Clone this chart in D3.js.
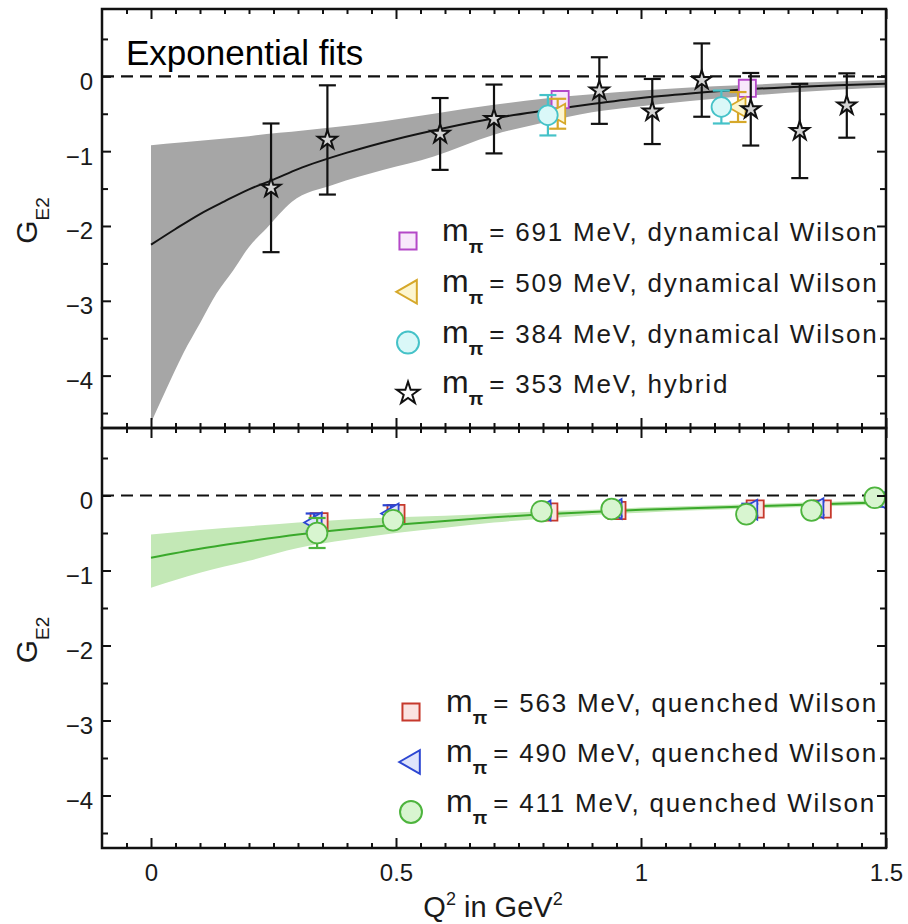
<!DOCTYPE html>
<html>
<head>
<meta charset="utf-8">
<script src="https://cdn.jsdelivr.net/npm/d3@7"></script>
<style>
  body { margin: 0; background: #fff; }
  svg text { font-family: "Liberation Sans", Arial, Helvetica, sans-serif; fill: #1a1a1a; }
</style>
</head>
<body>
<svg id="chart" width="908" height="924"></svg>
<script>
// ---------------- data ----------------
const xTickValues = [0, 0.5, 1, 1.5];
const xTickLabels = ["0", "0.5", "1", "1.5"];
const yTickValues = [0, -1, -2, -3, -4];
const yTickLabels = ["0", "\u22121", "\u22122", "\u22123", "\u22124"];

// exponential fit (upper panel): central curve
const fitTopQ = [0, 0.05, 0.1, 0.15, 0.2, 0.25, 0.3, 0.4, 0.5, 0.6, 0.7, 0.8, 0.9, 1.0, 1.1, 1.2, 1.3, 1.4, 1.5];
const fitTopG = [-2.25, -2.04, -1.84, -1.67, -1.51, -1.38, -1.24, -1.02, -0.84, -0.69, -0.56, -0.46, -0.37, -0.29, -0.23, -0.18, -0.145, -0.12, -0.10];
// exponential fit (upper panel): error band
const bandTopQ     = [0, 0.03, 0.066, 0.1, 0.134, 0.168, 0.2, 0.236, 0.287, 0.372, 0.475, 0.577, 0.7, 0.8, 0.9, 1.0, 1.1, 1.2, 1.3, 1.4, 1.5];
const bandTopUpper = [-0.92, -0.90, -0.88, -0.86, -0.84, -0.82, -0.80, -0.77, -0.74, -0.68, -0.60, -0.50, -0.38, -0.30, -0.24, -0.19, -0.15, -0.12, -0.09, -0.07, -0.05];
const bandTopLower = [-4.63, -4.20, -3.70, -3.30, -2.90, -2.59, -2.28, -2.03, -1.68, -1.45, -1.25, -1.07, -0.78, -0.62, -0.48, -0.40, -0.33, -0.27, -0.22, -0.18, -0.15];

// exponential fit (lower panel)
const fitBotQ     = [0, 0.1, 0.2, 0.3, 0.4, 0.5, 0.6, 0.7, 0.8, 0.9, 1.0, 1.1, 1.2, 1.3, 1.4, 1.5];
const fitBotG     = [-0.83, -0.71, -0.61, -0.52, -0.45, -0.39, -0.34, -0.29, -0.25, -0.22, -0.19, -0.17, -0.15, -0.13, -0.11, -0.09];
const bandBotUpper = [-0.52, -0.46, -0.41, -0.36, -0.32, -0.29, -0.27, -0.24, -0.21, -0.19, -0.16, -0.14, -0.12, -0.10, -0.08, -0.06];
const bandBotLower = [-1.23, -1.03, -0.87, -0.70, -0.59, -0.50, -0.43, -0.36, -0.31, -0.26, -0.23, -0.20, -0.18, -0.16, -0.14, -0.12];

// lattice points: [Q^2 (GeV^2), G_E2, error]
const dynWilson691 = [[0.835, -0.31, 0.06], [1.217, -0.16, 0.06]];
const dynWilson509 = [[0.830, -0.50, 0.20], [1.198, -0.41, 0.20]];
const dynWilson384 = [[0.810, -0.52, 0.27], [1.164, -0.41, 0.22]];
const hybrid353 = [
  [0.245, -1.49, 0.86], [0.360, -0.85, 0.73], [0.590, -0.77, 0.48], [0.700, -0.57, 0.46],
  [0.915, -0.19, 0.445], [1.023, -0.47, 0.435], [1.124, -0.05, 0.49], [1.224, -0.44, 0.485],
  [1.324, -0.73, 0.63], [1.420, -0.39, 0.43]
];
const quenched563 = [[0.343, -0.35, 0.07], [0.500, -0.24, 0.09], [0.812, -0.22, 0.05], [0.951, -0.20, 0.05], [1.233, -0.18, 0.06], [1.370, -0.18, 0.06]];
const quenched490 = [[0.333, -0.36, 0.12], [0.490, -0.24, 0.11], [0.800, -0.20, 0.08], [0.945, -0.18, 0.10], [1.222, -0.19, 0.08], [1.357, -0.17, 0.09], [1.490, -0.06, 0.09]];
const quenched411 = [[0.339, -0.50, 0.20], [0.494, -0.33, 0.05], [0.797, -0.21, 0.04], [0.940, -0.18, 0.04], [1.215, -0.25, 0.04], [1.348, -0.20, 0.04], [1.477, -0.03, 0.04]];

const legendTop = [
  { data: dynWilson691, text: "= 691 MeV, dynamical Wilson", shape: "square",   stroke: "#b448c8", fill: "#f8e8fb" },
  { data: dynWilson509, text: "= 509 MeV, dynamical Wilson", shape: "triangle", stroke: "#d6a82a", fill: "#fdf6cf" },
  { data: dynWilson384, text: "= 384 MeV, dynamical Wilson", shape: "circle",   stroke: "#45c2c8", fill: "#daf8f8" },
  { data: hybrid353,    text: "= 353 MeV, hybrid",           shape: "star",     stroke: "#111111", fill: "#d4d4d4" }
];
const legendBot = [
  { data: quenched563, text: "= 563 MeV, quenched Wilson", shape: "square",   stroke: "#c6392c", fill: "#fbe3e1" },
  { data: quenched490, text: "= 490 MeV, quenched Wilson", shape: "triangle", stroke: "#2c46d2", fill: "#dfe4fb" },
  { data: quenched411, text: "= 411 MeV, quenched Wilson", shape: "circle",   stroke: "#4db43d", fill: "#d8f5d0" }
];

// ---------------- layout ----------------
const svg = d3.select("#chart");
const plotLeft = 102, plotRight = 886;
const panels = [
  { top: 9,   bottom: 428, series: legendTop, band: { q: bandTopQ, up: bandTopUpper, lo: bandTopLower }, fit: { q: fitTopQ, g: fitTopG },
    bandColor: "#a6a6a6", lineColor: "#141414", legendX: 408, textX: 442, legendY0: 241, legendDY: 50.8, size: 1 },
  { top: 428, bottom: 848, series: legendBot, band: { q: fitBotQ, up: bandBotUpper, lo: bandBotLower }, fit: { q: fitBotQ, g: fitBotG },
    bandColor: "#c3e8b6", lineColor: "#3aa92b", legendX: 411, textX: 446, legendY0: 712, legendDY: 50, size: 1.05 }
];

const x = d3.scaleLinear().domain([-0.1, 1.5]).range([plotLeft, plotRight]);
const xMinor = d3.range(-0.05, 1.5, 0.05).map(v => +v.toFixed(2)).filter(v => !xTickValues.includes(v));
const yMinor = d3.range(-4.5, 0.9, 0.5).map(v => +v.toFixed(2)).filter(v => !yTickValues.includes(v));

function markerPath(shape, s) {
  if (shape === "square")   return d3.symbol(d3.symbolSquare, (18 * s) ** 2)();
  if (shape === "circle")   return d3.symbol(d3.symbolCircle, Math.PI * (9.8 * s) ** 2)();
  if (shape === "star")     return d3.symbol(d3.symbolStar, (10.5 * s) ** 2 / 0.8908)();
  // left-pointing triangle
  const r = 10.5 * s;
  return `M${-r},0L${r * 0.75},${-r}L${r * 0.75},${r}Z`;
}

panels.forEach((p, pi) => {
  const y = d3.scaleLinear().domain([-4.7, 0.9]).range([p.bottom, p.top]);
  const g = svg.append("g");
  const clipId = "clip" + pi;
  svg.append("clipPath").attr("id", clipId)
    .append("rect").attr("x", plotLeft).attr("y", p.top).attr("width", plotRight - plotLeft).attr("height", p.bottom - p.top);
  const inner = g.append("g").attr("clip-path", `url(#${clipId})`);

  // fit band
  const bandRows = p.band.q.map((q, i) => ({ q, up: p.band.up[i], lo: p.band.lo[i] }));
  inner.append("path").datum(bandRows)
    .attr("d", d3.area().x(d => x(d.q)).y0(d => y(d.lo)).y1(d => y(d.up)).curve(d3.curveMonotoneX))
    .attr("fill", p.bandColor).attr("stroke", "none");

  // zero line
  inner.append("line").attr("x1", plotLeft).attr("x2", plotRight).attr("y1", y(0)).attr("y2", y(0))
    .attr("stroke", "#111").attr("stroke-width", 2.2).attr("stroke-dasharray", "12,7");

  // central fit
  const fitRows = p.fit.q.map((q, i) => ({ q, g: p.fit.g[i] }));
  inner.append("path").datum(fitRows)
    .attr("d", d3.line().x(d => x(d.q)).y(d => y(d.g)).curve(d3.curveMonotoneX))
    .attr("fill", "none").attr("stroke", p.lineColor).attr("stroke-width", 2);

  // data series with error bars
  p.series.forEach(s => {
    const sg = inner.append("g");
    const pts = sg.selectAll("g.pt").data(s.data).join("g").attr("class", "pt");
    const cap = 8.5;
    const errCol = s.stroke;
    pts.append("line").attr("x1", d => x(d[0])).attr("x2", d => x(d[0]))
      .attr("y1", d => y(d[1] - d[2])).attr("y2", d => y(d[1] + d[2]))
      .attr("stroke", errCol).attr("stroke-width", 2.2);
    [-1, 1].forEach(sign => {
      pts.append("line").attr("x1", d => x(d[0]) - cap).attr("x2", d => x(d[0]) + cap)
        .attr("y1", d => y(d[1] + sign * d[2])).attr("y2", d => y(d[1] + sign * d[2]))
        .attr("stroke", errCol).attr("stroke-width", 2.2);
    });
    pts.append("path").attr("d", markerPath(s.shape, s.shape === "circle" ? p.size : 0.95))
      .attr("transform", d => `translate(${x(d[0])},${y(d[1])})`)
      .attr("fill", s.fill).attr("stroke", s.stroke).attr("stroke-width", s.shape === "star" ? 2 : 1.8)
      .attr("stroke-linejoin", "miter");
  });

  // legend: marker, then "m" with subscript pi and the description in one text run
  p.series.forEach((s, i) => {
    const ly = p.legendY0 + i * p.legendDY;
    g.append("path").attr("d", markerPath(s.shape, s.shape === "square" ? 0.95 : 1.12))
      .attr("transform", `translate(${p.legendX},${ly})`)
      .attr("fill", s.shape === "star" ? "#ffffff" : s.fill).attr("stroke", s.stroke).attr("stroke-width", 2);
    const t = g.append("text").attr("x", p.textX).attr("y", ly);
    t.append("tspan").attr("font-size", 32).text("m");
    t.append("tspan").attr("font-size", 19).attr("font-weight", "bold").attr("dx", 0).attr("dy", 12).text("\u03c0");
    t.append("tspan").attr("font-size", 26).attr("letter-spacing", "1.8px").attr("dx", 6).attr("dy", -12).text(s.text);
  });

  // axes: inward ticks on all sides
  const styleAxis = sel => {
    sel.select(".domain").remove();
    sel.selectAll("line").attr("stroke", "#111").attr("stroke-width", 2);
    sel.attr("font-family", null).attr("font-size", null);
  };
  const yl = d3.scaleOrdinal().domain(yTickValues).range(yTickLabels);
  g.append("g").attr("transform", `translate(${plotLeft},0)`)
    .call(d3.axisLeft(y).tickValues(yTickValues).tickSize(-9).tickPadding(9).tickFormat(d => yl(d)))
    .call(styleAxis)
    .call(a => a.selectAll("text").attr("dy", 13).attr("font-size", 24));
  g.append("g").attr("transform", `translate(${plotLeft},0)`)
    .call(d3.axisLeft(y).tickValues(yMinor).tickSize(-6).tickFormat("")).call(styleAxis);
  g.append("g").attr("transform", `translate(${plotRight},0)`)
    .call(d3.axisRight(y).tickValues(yTickValues).tickSize(-9).tickFormat("")).call(styleAxis);
  g.append("g").attr("transform", `translate(${plotRight},0)`)
    .call(d3.axisRight(y).tickValues(yMinor).tickSize(-6).tickFormat("")).call(styleAxis);

  const xl = d3.scaleOrdinal().domain(xTickValues).range(xTickLabels);
  g.append("g").attr("transform", `translate(0,${p.top})`)
    .call(d3.axisTop(x).tickValues(xTickValues).tickSize(-10).tickFormat("")).call(styleAxis);
  g.append("g").attr("transform", `translate(0,${p.top})`)
    .call(d3.axisTop(x).tickValues(xMinor).tickSize(-5).tickFormat("")).call(styleAxis);
  const bAxis = g.append("g").attr("transform", `translate(0,${p.bottom})`)
    .call(d3.axisBottom(x).tickValues(xTickValues).tickSize(-10).tickFormat(d => pi === 1 ? xl(d) : ""))
    .call(styleAxis);
  bAxis.selectAll("text").attr("y", 33).attr("dy", 0).attr("font-size", 24);
  g.append("g").attr("transform", `translate(0,${p.bottom})`)
    .call(d3.axisBottom(x).tickValues(xMinor).tickSize(-5).tickFormat("")).call(styleAxis);

  // frame
  g.append("rect").attr("x", plotLeft).attr("y", p.top).attr("width", plotRight - plotLeft).attr("height", p.bottom - p.top)
    .attr("fill", "none").attr("stroke", "#111").attr("stroke-width", 2.5);

  // y axis title
  const cy = (p.top + p.bottom) / 2 + 2;
  const t = g.append("text").attr("transform", `translate(37,${cy}) rotate(-90)`).attr("text-anchor", "middle").attr("font-size", 30);
  t.append("tspan").text("G");
  t.append("tspan").attr("font-size", 19).attr("dy", 12).text("E2");
});

// title inside the upper panel
svg.append("text").attr("x", 126).attr("y", 65).attr("font-size", 35).style("fill", "#000").text("Exponential fits");

// x axis title
const xt = svg.append("text").attr("x", 493).attr("y", 917).attr("text-anchor", "middle").attr("font-size", 29);
xt.append("tspan").text("Q");
xt.append("tspan").attr("font-size", 18).attr("dy", -12).text("2");
xt.append("tspan").attr("dy", 12).text(" in GeV");
xt.append("tspan").attr("font-size", 18).attr("dy", -12).text("2");
</script>
</body>
</html>
